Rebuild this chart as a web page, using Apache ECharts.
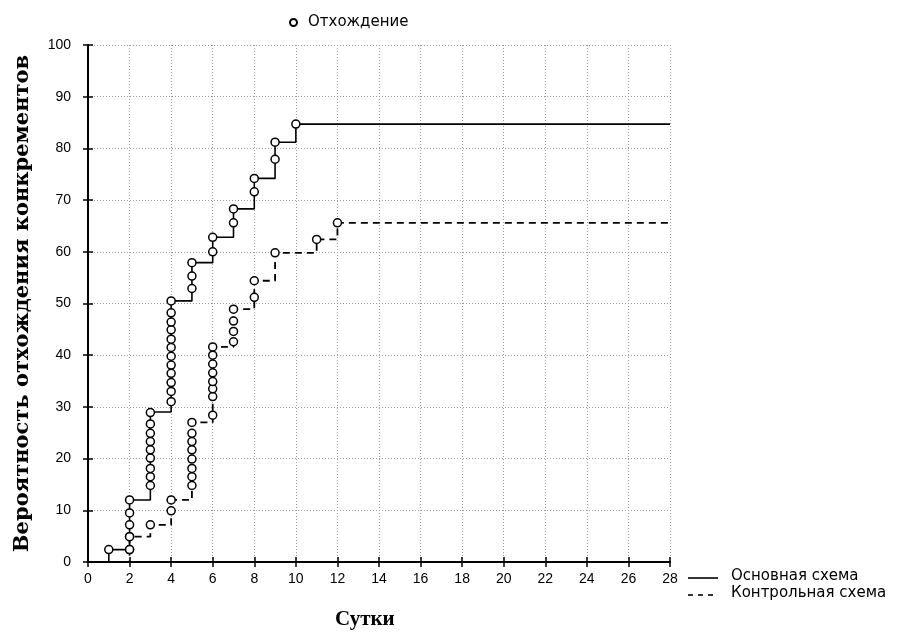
<!DOCTYPE html>
<html>
<head>
<meta charset="utf-8">
<script src="https://cdn.jsdelivr.net/npm/echarts@6/dist/echarts.min.js"></script>
<style>
html,body{margin:0;padding:0;background:#fff;}
#chart{width:901px;height:635px;}
</style>
</head>
<body>
<div id="chart"></div>
<script>
// кривые накопленной вероятности (ступени)
var mainDays   = [0, 1, 2, 3, 4, 5, 6, 7, 8, 9, 10, 28];
var mainLevels = [0, 2.4, 12.0, 29.0, 50.5, 57.9, 62.8, 68.3, 74.2, 81.2, 84.7, 84.7];
var ctrlDays   = [0, 2, 3, 4, 5, 6, 7, 8, 9, 11, 12, 28];
var ctrlLevels = [0, 4.9, 7.2, 12.0, 27.0, 41.6, 48.9, 54.4, 59.8, 62.4, 65.6, 65.6];

// кружки (отхождение) по дням
var mainMarks = [
  [1, [2.4]],
  [2, [2.4, 4.9, 7.2, 9.5, 12.0]],
  [3, [14.8, 16.5, 18.1, 20.1, 21.7, 23.3, 24.9, 26.7, 28.9]],
  [4, [31.0, 33.0, 34.7, 36.5, 38.1, 39.8, 41.5, 43.1, 44.9, 46.4, 48.2, 50.5]],
  [5, [52.9, 55.3, 57.9]],
  [6, [60.0, 62.8]],
  [7, [65.6, 68.3]],
  [8, [71.6, 74.2]],
  [9, [77.9, 81.2]],
  [10, [84.7]]
];
var ctrlMarks = [
  [2, [2.4, 4.9]],
  [3, [7.2]],
  [4, [9.9, 12.0]],
  [5, [14.8, 16.5, 18.1, 19.9, 21.7, 23.3, 24.9, 27.0]],
  [6, [28.4, 32.0, 33.5, 34.9, 36.6, 38.3, 40.0, 41.6]],
  [7, [42.6, 44.6, 46.6, 48.9]],
  [8, [51.2, 54.4]],
  [9, [59.8]],
  [11, [62.4]],
  [12, [65.6]]
];

var xTicks = [0, 28, 2];   // min, max, шаг
var yTicks = [0, 100, 10];

var names = ['Основная схема', 'Контрольная схема', 'Отхождение'];

function pairs(xs, ys){
  var out = [];
  for(var i=0;i<xs.length;i++){
    out.push([xs[i], ys[i]]);
  }
  return out;
}
function marks(list){
  var out = [];
  for(var i=0;i<list.length;i++){
    for(var j=0;j<list[i][1].length;j++){
      out.push([list[i][0], list[i][1][j]]);
    }
  }
  return out;
}

var sans = 'Arial, "Liberation Sans", sans-serif';
var wide = '"DejaVu Sans", Verdana, sans-serif';
var serif = '"DejaVu Serif", "Liberation Serif", serif';
var grid = {type: [1, 2], color: '#9a9a9a', width: 1};

var myChart = echarts.init(document.getElementById('chart'));
var option = {
  animation: false,
  backgroundColor: '#fff',
  grid: {left: 88, right: 231, top: 45, bottom: 73, containLabel: false, outerBoundsMode: 'none'},
  legend: [{
    data: [names[2]],
    left: 284, top: 10,
    itemWidth: 7, itemHeight: 7, itemGap: 10,
    textStyle: {fontFamily: wide, fontSize: 15, color: '#000', padding: [0,0,0,6]}
  }],
  xAxis: [{
    type: 'value', min: xTicks[0], max: xTicks[1], interval: xTicks[2],
    axisLine: {show: true, lineStyle: {color: '#000', width: 2}},
    axisTick: {show: true, inside: true, length: 5, lineStyle: {color: '#000', width: 1.5}},
    axisLabel: {color: '#000', fontFamily: sans, fontSize: 14, margin: 10},
    splitLine: {show: true, lineStyle: grid}
  },{
    type: 'value', position: 'top', min: xTicks[0], max: xTicks[1], interval: xTicks[2],
    axisLine: {show: true, lineStyle: {color: '#000', width: 2}},
    axisTick: {show: true, inside: true, length: 5, lineStyle: {color: '#000', width: 1.5}},
    axisLabel: {show: false}, splitLine: {show: false}
  }],
  yAxis: [{
    type: 'value', min: yTicks[0], max: yTicks[1], interval: yTicks[2],
    name: 'Вероятность отхождения конкрементов',
    nameLocation: 'middle', nameGap: 55, nameRotate: 90,
    nameTextStyle: {fontFamily: serif, fontWeight: 'bold', fontSize: 21, color: '#000', padding: [0, 0, 0, 0]},
    axisLine: {show: true, lineStyle: {color: '#000', width: 2}},
    axisTick: {show: true, inside: true, length: 5, lineStyle: {color: '#000', width: 1.5}},
    axisLabel: {color: '#000', fontFamily: sans, fontSize: 14, margin: 17},
    splitLine: {show: true, lineStyle: grid}
  },{
    type: 'value', position: 'right', min: yTicks[0], max: yTicks[1], interval: yTicks[2],
    axisLine: {show: true, lineStyle: {color: '#000', width: 2}},
    axisTick: {show: true, inside: true, length: 5, lineStyle: {color: '#000', width: 1.5}},
    axisLabel: {show: false}, splitLine: {show: false}
  }],
  graphic: [{
    type: 'text', left: 335, top: 609,
    style: {text: 'Сутки', font: 'bold 21px "Liberation Serif", serif', fill: '#000'}
  },{
    // легенда линий справа внизу
    type: 'line', shape: {x1: 688, y1: 578, x2: 718, y2: 578},
    style: {stroke: '#000', lineWidth: 1.6}
  },{
    type: 'line', shape: {x1: 688, y1: 595, x2: 718, y2: 595},
    style: {stroke: '#000', lineWidth: 1.6, lineDash: [5, 5]}
  },{
    type: 'text', left: 731, top: 569,
    style: {text: names[0], font: '15px "DejaVu Sans", sans-serif', fill: '#000'}
  },{
    type: 'text', left: 731, top: 586,
    style: {text: names[1], font: '15px "DejaVu Sans", sans-serif', fill: '#000'}
  }],
  series: [{
    name: names[0], type: 'line', step: 'end',
    data: pairs(mainDays, mainLevels),
    showSymbol: false, symbol: 'none',
    lineStyle: {color: '#000', width: 1.6},
    z: 3
  },{
    name: names[1], type: 'line', step: 'end',
    data: pairs(ctrlDays, ctrlLevels),
    showSymbol: false, symbol: 'none',
    lineStyle: {color: '#000', width: 1.8, type: [7, 5]},
    z: 3
  },{
    name: names[2], type: 'scatter',
    data: marks(mainMarks).concat(marks(ctrlMarks)),
    symbol: 'circle', symbolSize: 8,
    itemStyle: {color: '#fff', borderColor: '#000', borderWidth: 1.5, opacity: 1},
    z: 5
  }]
};
myChart.setOption(option);
</script>
</body>
</html>
